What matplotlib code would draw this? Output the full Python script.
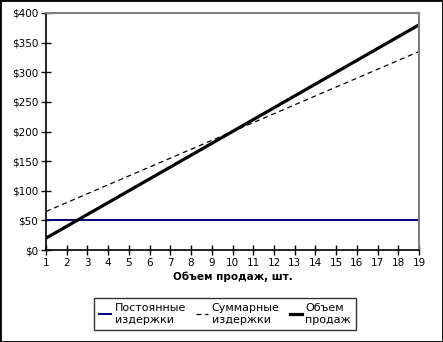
import matplotlib
matplotlib.use("Agg")
import matplotlib.pyplot as plt
import numpy as np

volume = list(range(1, 20))
fixedCosts = [50] * 19
totalCosts = [65, 80, 95, 110, 125, 140, 155, 170, 185, 200, 215, 230, 245, 260, 275, 290, 305, 320, 335]
sales = [20, 40, 60, 80, 100, 120, 140, 160, 180, 200, 220, 240, 260, 280, 300, 320, 340, 360, 380]
yTicks = [0, 50, 100, 150, 200, 250, 300, 350, 400]

plt.rcParams['font.family'] = ['DejaVu Sans']

fig = plt.figure(figsize=(4.43, 3.42), dpi=100)
ax = fig.add_axes([46/443, 1-250/342, (419-46)/443, (250-13)/342])

ax.plot(volume, fixedCosts, color='#000080', lw=1.4, label='Постоянные\nиздержки')
ax.plot(volume, totalCosts, color='black', lw=0.9, ls=(0, (4, 3)), label='Суммарные\nиздержки')
ax.plot(volume, sales, color='black', lw=2.3, label='Объем\nпродаж')

ax.set_xlim(1, 19)
ax.set_ylim(0, 400)
ax.set_xticks(volume)
ax.set_yticks(yTicks)
ax.set_yticklabels([f'${v}' for v in yTicks])
ax.tick_params(direction='inout', length=7, width=1, labelsize=7.5, color='black', pad=2)
for s in ['top', 'right']:
  ax.spines[s].set_color('#808080')
  ax.spines[s].set_linewidth(1.5)
for s in ['left', 'bottom']:
  ax.spines[s].set_color('black')
  ax.spines[s].set_linewidth(1.2)
ax.set_xlabel('Объем продаж, шт.', fontweight='bold', fontsize=7.5, labelpad=3)

leg = fig.legend(loc='lower center', bbox_to_anchor=(225/443, 1-336/342), ncol=3,
                 fontsize=8, frameon=True, fancybox=False, handlelength=1.1,
                 handletextpad=0.3, columnspacing=0.9, borderpad=0.5)
leg.get_frame().set_edgecolor('black')
leg.get_frame().set_linewidth(1.0)

fig.patches.append(plt.Rectangle((0, 0), 1, 1, transform=fig.transFigure,
                                 fill=False, edgecolor='black', lw=2))

fig.savefig('out.png', dpi=100)
